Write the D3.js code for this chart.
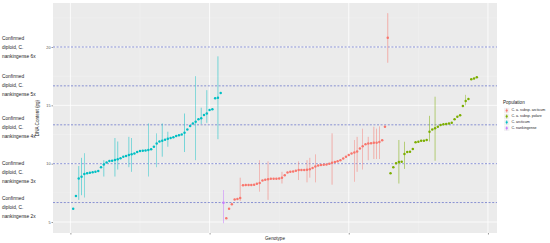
<!DOCTYPE html>
<meta charset="utf-8">
<script src="https://d3js.org/d3.v7.min.js"></script>
<style>
  body { margin: 0; background: #fff; }
  text { font-family: "Liberation Sans", Arial, sans-serif; }
</style>
<div id="my_dataviz"></div>
<script>

  // DNA content (pg) per genotype, each population already sorted
  const arcticumVals = [6.14, 7.23, 8.74, 8.88, 9.11, 9.17, 9.23, 9.26, 9.31, 9.37,
    9.69, 9.94, 10.11, 10.23, 10.26, 10.31, 10.37, 10.46, 10.6, 10.66,
    10.74, 10.8, 10.88, 11.0, 11.08, 11.11, 11.14, 11.17, 11.23, 11.45,
    11.74, 11.91, 11.97, 12.06, 12.14, 12.2, 12.26, 12.37, 12.43, 12.51,
    12.66, 12.94, 13.23, 13.45, 13.6, 13.8, 13.9, 14.17, 14.3, 14.6,
    14.66, 15.6, 15.66, 16.05]
  const nankingenseVals = [6.65]
  const subspArcticumVals = [5.32, 6.14, 6.52, 6.94, 6.97, 7.06, 8.15, 8.17, 8.17, 8.17,
    8.2, 8.28, 8.35, 8.55, 8.62, 8.66, 8.7, 8.71, 8.71, 8.72,
    8.8, 9.0, 9.25, 9.3, 9.33, 9.4, 9.46, 9.46, 9.46, 9.48,
    9.52, 9.62, 9.75, 9.85, 9.88, 9.9, 9.93, 10.0, 10.08, 10.15,
    10.2, 10.3, 10.45, 10.6, 10.75, 10.88, 10.95, 11.05, 11.3, 11.5,
    11.66, 11.72, 11.75, 11.8, 11.8, 11.85, 12.0, 13.17, 20.8]
  const subspPolareVals = [9.17, 9.69, 10.03, 10.14, 10.17, 10.83, 11.0, 11.03, 11.26, 11.83,
    11.88, 11.97, 11.97, 12.03, 12.74, 12.94, 13.03, 13.17, 13.31, 13.37,
    13.4, 13.45, 13.51, 13.8, 14.02, 14.14, 14.94, 15.37, 15.54, 17.23,
    17.3, 17.4]

  // ranges: [genotype number, low, high]
  const arcticumBars = [[3, 6.9, 9.8], [4, 7.3, 10.5], [5, 7.1, 10.9], [12, 8.9, 10.3], [16, 8.9, 12.2],
    [17, 9.5, 11.9], [21, 9.7, 12.3], [22, 9.3, 12.2], [28, 8.9, 13.45], [31, 9.7, 12.6],
    [33, 10.6, 13.45], [35, 11.45, 12.74], [41, 11.0, 14.3], [45, 10.3, 17.5], [47, 13.4, 14.8],
    [49, 13.5, 16.3], [53, 12.1, 19.2]]
  const nankingenseBars = [[55, 4.9, 7.74]]
  const subspArcticumBars = [[61, 6.8, 8.8], [68, 7.6, 10.3], [71, 6.9, 10.2], [76, 8.3, 9.3], [82, 8.6, 10.2],
    [85, 8.4, 10.3], [86, 8.8, 10.5], [88, 8.4, 10.8], [94, 8.2, 12.6], [102, 8.45, 12.03],
    [103, 9.3, 12.3], [105, 9.5, 13.0], [107, 10.3, 12.3], [109, 10.4, 13.17], [110, 10.4, 13.0],
    [111, 10.4, 13.2], [114, 18.65, 22.9]]
  const subspPolareBars = [[118, 8.3, 12.03], [120, 9.55, 11.88], [129, 11.9, 14.1], [131, 10.25, 15.74],
    [142, 15.0, 15.9]]

  const populations = ["C. a. subsp. arcticum", "C. a. subsp. polare", "C. arcticum", "C. nankingense"]
  const colors = ["#F8766D", "#7CAE00", "#00BFC4", "#C77CFF"]

  const yTicks = [5, 10, 15, 20]
  const yMinor = [7.5, 12.5, 17.5, 22.5]
  const xTicks = [0, 50, 100, 150]
  const xMinor = [25, 75, 125]
  const ploidyLines = [6.67, 10, 13.33, 16.67, 20]
  const ploidyNotes = [
    ["Confirmed", "diploid, C.", "nankingense 6x"],
    ["Confirmed", "diploid, C.", "nankingense 5x"],
    ["Confirmed", "diploid, C.", "nankingense 4x"],
    ["Confirmed", "diploid, C.", "nankingense 3x"],
    ["Confirmed", "diploid, C.", "nankingense 2x"]]
  const noteTops = [38, 76, 118, 163, 198]

  // genotype order along x: arcticum, nankingense, subsp. arcticum, subsp. polare
  const groups = [
    { pop: "C. arcticum", vals: arcticumVals, bars: arcticumBars },
    { pop: "C. nankingense", vals: nankingenseVals, bars: nankingenseBars },
    { pop: "C. a. subsp. arcticum", vals: subspArcticumVals, bars: subspArcticumBars },
    { pop: "C. a. subsp. polare", vals: subspPolareVals, bars: subspPolareBars }]

  const rows = []
  const bars = []
  let n = 0
  groups.forEach(function (g) {
    g.vals.forEach(function (v) { n++; rows.push({ id: n, pop: g.pop, v: v }) })
    g.bars.forEach(function (b) { bars.push({ id: b[0], pop: g.pop, lo: b[1], hi: b[2] }) })
  })

  const color = d3.scaleOrdinal().domain(populations).range(colors)

  const panel = { left: 53, right: 497, top: 3, bottom: 233 }

  const svg = d3.select("#my_dataviz")
    .append("svg")
    .attr("width", 550)
    .attr("height", 243)

  const x = d3.scaleLinear().domain([-6.25, 153.25]).range([panel.left, panel.right])
  const y = d3.scaleLinear().domain([4.06, 23.77]).range([panel.bottom, panel.top])

  // panel background + grid
  svg.append("rect")
    .attr("x", panel.left).attr("y", panel.top)
    .attr("width", panel.right - panel.left).attr("height", panel.bottom - panel.top)
    .style("fill", "#EBEBEB")

  svg.selectAll("yMinor").data(yMinor).join("line")
    .attr("x1", panel.left).attr("x2", panel.right)
    .attr("y1", d => y(d)).attr("y2", d => y(d))
    .style("stroke", "#F6F6F6").style("stroke-width", 0.4)
  svg.selectAll("xMinor").data(xMinor).join("line")
    .attr("y1", panel.top).attr("y2", panel.bottom)
    .attr("x1", d => x(d)).attr("x2", d => x(d))
    .style("stroke", "#F6F6F6").style("stroke-width", 0.4)
  svg.selectAll("yMajor").data(yTicks).join("line")
    .attr("x1", panel.left).attr("x2", panel.right)
    .attr("y1", d => y(d)).attr("y2", d => y(d))
    .style("stroke", "white").style("stroke-width", 0.8)
  svg.selectAll("xMajor").data(xTicks).join("line")
    .attr("y1", panel.top).attr("y2", panel.bottom)
    .attr("x1", d => x(d)).attr("x2", d => x(d))
    .style("stroke", "white").style("stroke-width", 0.8)

  // ploidy reference lines
  svg.selectAll("ploidy").data(ploidyLines).join("line")
    .attr("x1", panel.left).attr("x2", panel.right)
    .attr("y1", d => y(d)).attr("y2", d => y(d))
    .style("stroke", "#6F78CC").style("stroke-width", 0.8)
    .style("stroke-dasharray", "2,1.6")

  // ranges then points
  svg.selectAll("bars").data(bars).join("line")
    .attr("x1", d => x(d.id)).attr("x2", d => x(d.id))
    .attr("y1", d => y(d.lo)).attr("y2", d => y(d.hi))
    .style("stroke", d => color(d.pop)).style("stroke-width", 0.6)
    .style("opacity", 0.85)

  svg.selectAll("pts").data(rows).join("circle")
    .attr("cx", d => x(d.id)).attr("cy", d => y(d.v)).attr("r", 1.25)
    .style("fill", d => color(d.pop))

  // axes
  const yAxis = svg.append("g")
    .attr("transform", `translate(${panel.left},0)`)
    .call(d3.axisLeft(y).tickValues(yTicks).tickSize(1.5).tickPadding(1))
  const xAxis = svg.append("g")
    .attr("transform", `translate(0,${panel.bottom})`)
    .call(d3.axisBottom(x).tickValues(xTicks).tickSize(1.5).tickFormat(""))
  svg.selectAll(".domain").remove()
  svg.selectAll(".tick line").style("stroke", "#333").style("stroke-width", 0.5)
  yAxis.selectAll("text").style("font-size", "3.8px").style("fill", "#4D4D4D")
    .style("font-family", "Liberation Sans, Arial, sans-serif")

  svg.append("text")
    .attr("transform", `translate(39,${(panel.top + panel.bottom) / 2}) rotate(-90)`)
    .style("text-anchor", "middle").style("font-size", "4.6px").style("fill", "#222")
    .text("DNA Content (pg)")
  svg.append("text")
    .attr("x", (panel.left + panel.right) / 2).attr("y", 239.5)
    .style("text-anchor", "middle").style("font-size", "4.6px").style("fill", "#222")
    .text("Genotype")

  // left annotations (squeezed a little, the original face is narrow)
  ploidyNotes.forEach(function (lines, i) {
    svg.append("g")
      .attr("transform", `translate(2,${noteTops[i]}) scale(0.8,1)`)
      .selectAll("text").data(lines).join("text")
      .attr("x", 0).attr("y", (d, j) => j * 9)
      .attr("dominant-baseline", "middle")
      .style("font-size", "6px").style("fill", "#1a1a1a")
      .text(d => d)
  })

  // legend
  svg.append("text").attr("x", 503).attr("y", 103.5)
    .style("font-size", "4.6px").style("fill", "#222").text("Population")
  const leg = svg.selectAll("leg").data(populations).join("g")
    .attr("transform", (d, i) => `translate(504,${107.8 + i * 5.9})`)
  leg.append("rect").attr("width", 5.4).attr("height", 5.4)
    .style("fill", "#F2F2F2")
  leg.append("line").attr("x1", 2.7).attr("x2", 2.7).attr("y1", 0.6).attr("y2", 4.8)
    .style("stroke", d => color(d)).style("stroke-width", 0.5)
  leg.append("circle").attr("cx", 2.7).attr("cy", 2.7).attr("r", 1.1)
    .style("fill", d => color(d))
  leg.append("text").attr("x", 7.5).attr("y", 2.7).attr("dominant-baseline", "middle")
    .style("font-size", "3.6px").style("fill", "#222").text(d => d)

</script>
